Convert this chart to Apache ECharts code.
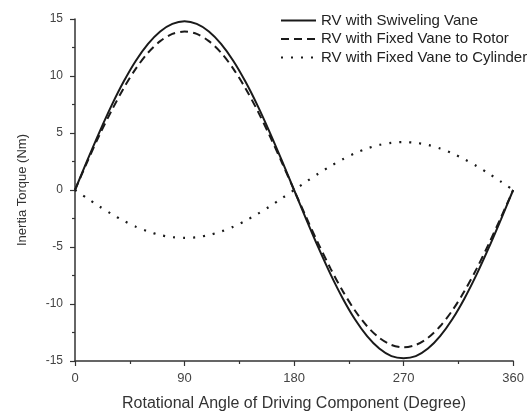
<!DOCTYPE html>
<html><head><meta charset="utf-8">
<script src="https://cdn.jsdelivr.net/npm/echarts@6/dist/echarts.min.js"></script>
<style>html,body{margin:0;padding:0;background:#fff}#c{width:527px;height:417px}</style>
</head><body><div id="c"></div>
<script>
var angles = [0,10,20,30,40,50,60,70,80,90,100,110,120,130,140,150,160,170,180,190,200,210,220,230,240,250,260,270,280,290,300,310,320,330,340,350,360];
var swiveling = [0,2.57,5.06,7.4,9.51,11.34,12.82,13.91,14.57,14.8,14.57,13.91,12.82,11.34,9.51,7.4,5.06,2.57,0,-2.57,-5.06,-7.4,-9.51,-11.34,-12.82,-13.91,-14.57,-14.75,-14.57,-13.91,-12.82,-11.34,-9.51,-7.4,-5.06,-2.57,0];
var fixedRotor = [0,2.45,4.8,6.95,8.93,10.65,12.04,13.06,13.69,13.9,13.69,13.06,12.04,10.65,8.93,6.95,4.75,2.41,0,-2.4,-4.72,-6.9,-8.87,-10.57,-11.95,-12.97,-13.59,-13.8,-13.59,-12.97,-11.95,-10.57,-8.87,-6.9,-4.72,-2.4,0];
var fixedCylinder = [0,-0.73,-1.44,-2.1,-2.7,-3.22,-3.64,-3.95,-4.14,-4.2,-4.14,-3.95,-3.64,-3.22,-2.7,-2.1,-1.44,-0.73,0,0.73,1.44,2.1,2.7,3.22,3.64,3.95,4.14,4.2,4.14,3.95,3.64,3.22,2.7,2.1,1.44,0.73,0];
var xTicks = [0,90,180,270,360];
var seriesNames = ['RV with Swiveling Vane','RV with Fixed Vane to Rotor','RV with Fixed Vane to Cylinder'];

function pairs(v){ return angles.map(function(a,i){ return [a, v[i]]; }); }
var font = 'Liberation Sans, Arial, sans-serif';
var chart = echarts.init(document.getElementById('c'), null, {renderer:'canvas'});
chart.setOption({
  animation:false,
  backgroundColor:'#fff',
  grid:{left:75,right:10,top:19,bottom:51,containLabel:false},
  legend:{
    orient:'vertical', left:280, top:13, itemWidth:35, itemHeight:12, itemGap:3.5,
    padding:0,
    itemStyle:{opacity:0},
    textStyle:{fontFamily:font,fontSize:15,color:'#222'},
    data:seriesNames
  },
  xAxis:{
    type:'value', min:0, max:360, interval:90,
    name:'Rotational Angle of Driving Component (Degree)', nameLocation:'middle', nameGap:35,
    nameTextStyle:{fontFamily:font,fontSize:16,color:'#333'},
    axisLine:{onZero:false,lineStyle:{color:'#333',width:1.5}},
    axisTick:{show:true,length:5,lineStyle:{color:'#333',width:1.2}},
    minorTick:{show:true,splitNumber:2,length:3,lineStyle:{color:'#333',width:1.2}},
    axisLabel:{fontFamily:font,fontSize:13,color:'#444',margin:11,
      formatter:function(v){return xTicks.indexOf(v)>=0?String(v):'';}},
    splitLine:{show:false}
  },
  yAxis:{
    type:'value', min:-15, max:15, interval:5,
    name:'Inertia Torque (Nm)', nameLocation:'middle', nameGap:46,
    nameTextStyle:{fontFamily:font,fontSize:13,color:'#333'},
    axisLine:{show:true,onZero:false,lineStyle:{color:'#333',width:1.5}},
    axisTick:{show:true,length:5,lineStyle:{color:'#333',width:1.2}},
    minorTick:{show:true,splitNumber:2,length:3,lineStyle:{color:'#333',width:1.2}},
    axisLabel:{fontFamily:font,fontSize:12,color:'#444',margin:12},
    splitLine:{show:false}
  },
  series:[
    {name:seriesNames[0],type:'line',smooth:0.3,symbol:'none',data:pairs(swiveling),
     lineStyle:{color:'#1a1a1a',width:2},itemStyle:{color:'#1a1a1a'}},
    {name:seriesNames[1],type:'line',smooth:0.3,symbol:'none',data:pairs(fixedRotor),
     lineStyle:{color:'#1a1a1a',width:2,type:[8,5]},itemStyle:{color:'#1a1a1a'}},
    {name:seriesNames[2],type:'line',smooth:0.3,symbol:'none',data:pairs(fixedCylinder),
     lineStyle:{color:'#1a1a1a',width:2.2,type:[2,8]},itemStyle:{color:'#1a1a1a'}}
  ]
});
</script></body></html>
